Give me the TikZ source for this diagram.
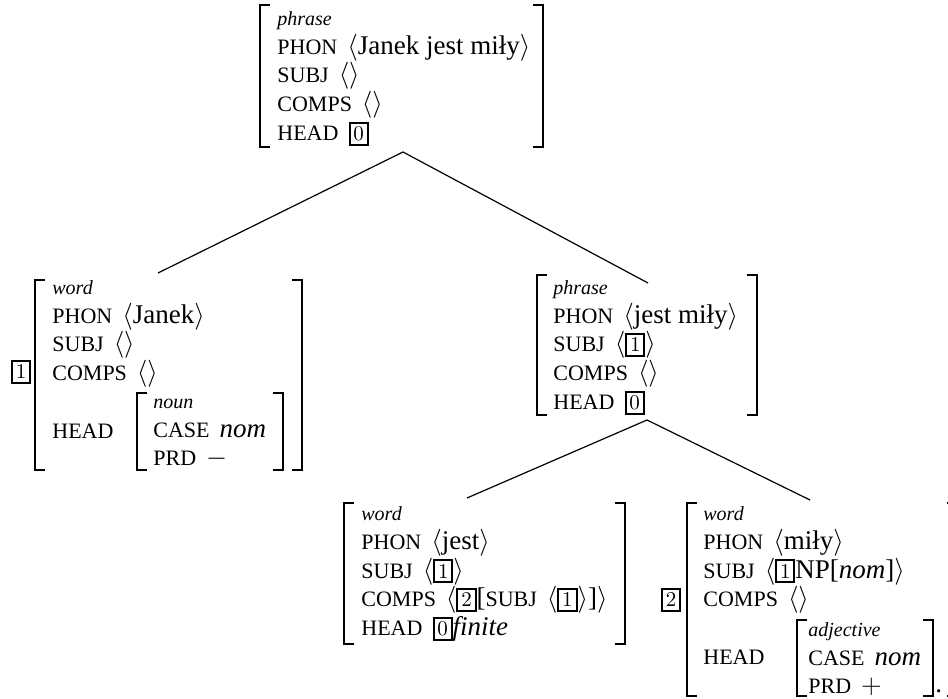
\RequirePackage{fix-cm}
\documentclass[tikz,border=0pt]{standalone}
\usepackage{fontspec}
\setmainfont{Liberation Serif}
\newfontfamily\tagfont{Latin Modern Roman}

\newcommand{\valfont}{\fontsize{13.5}{14.4}\selectfont}
\newcommand{\feat}[1]{{\fontsize{11}{14.4}\selectfont #1}\hspace{5pt}}
\newcommand{\typ}[1]{\rule{0pt}{8pt}{\fontsize{10}{14.4}\selectfont\itshape #1}}
\newcommand{\tagbox}[1]{{\setlength{\fboxsep}{1.4pt}\setlength{\fboxrule}{1pt}\fbox{\tagfont\fontsize{10.5}{10}\selectfont #1}}}
\newcommand{\lst}[1]{$\langle$#1$\rangle$}
% left x, top y, right x, bottom y
\newcommand{\avmbr}[4]{%
  \draw[br] (#1+10,#2) -| (#1,#4) -- (#1+10,#4);
  \draw[br] (#3-10,#2) -| (#3,#4) -- (#3-10,#4);}

\begin{document}
\begin{tikzpicture}[x=0.5pt,y=-0.5pt,
  avm/.style={anchor=north west,inner sep=0,align=left,font=\valfont},
  tag/.style={anchor=base,inner sep=0,font=\valfont},
  br/.style={line width=0.6pt},
  edge/.style={line width=0.6pt}]
	\useasboundingbox (0,0) rectangle (948,699);
	\clip (0,0) rectangle (948,699);
	% top
	\node[avm] (1) at (277,9) {\typ{phrase}\\
		\feat{PHON}\lst{Janek jest miły}\\
		\feat{SUBJ}\lst{}\\
		\feat{COMPS}\lst{}\\
		\feat{HEAD}\tagbox{0}};
	\avmbr{260}{5}{543}{147}
	% Janek
	\node[tag] (t1) at (21,379) {\tagbox{1}};
	\node[avm] (2) at (52,278) {\typ{word}\\
		\feat{PHON}\lst{Janek}\\
		\feat{SUBJ}\lst{}\\
		\feat{COMPS}\lst{}\\
		\mbox{}\\
		\feat{HEAD}\\
		\mbox{}};
	\avmbr{35}{280}{302}{470}
	\node[avm] (6) at (153,392) {\typ{noun}\\
		\feat{CASE}\textit{nom}\\
		\feat{PRD}$-$};
	\avmbr{137}{393}{283}{470}
	% jest mily
	\node[avm] (3) at (553,278) {\typ{phrase}\\
		\feat{PHON}\lst{jest miły}\\
		\feat{SUBJ}\lst{\tagbox{1}}\\
		\feat{COMPS}\lst{}\\
		\feat{HEAD}\tagbox{0}};
	\avmbr{537}{275}{757}{415}
	% jest
	\node[avm] (4) at (361,504) {\typ{word}\\
		\feat{PHON}\lst{jest}\\
		\feat{SUBJ}\lst{\tagbox{1}}\\
		\feat{COMPS}\lst{\tagbox{2}[\feat{SUBJ}\lst{\tagbox{1}}]}\\
		\feat{HEAD}\tagbox{0}\textit{finite}};
	\avmbr{344}{503}{625}{644}
	% mily
	\node[tag] (t2) at (671,607) {\tagbox{2}};
	\node[avm] (5) at (703,504) {\typ{word}\\
		\feat{PHON}\lst{miły}\\
		\feat{SUBJ}\lst{\tagbox{1}NP[\textit{nom}]}\\
		\feat{COMPS}\lst{}\\
		\mbox{}\\
		\feat{HEAD}\\
		\mbox{}};
	\avmbr{687}{503}{957}{696}
	\node[avm] (7) at (808,620) {\typ{adjective}\\
		\feat{CASE}\textit{nom}\\
		\feat{PRD}$+$};
	\avmbr{797}{620}{933}{696}
	\node[anchor=base west,inner sep=0,font=\valfont] (p) at (935,693) {.};
	% branches
	\coordinate (f1) at (403,152);
	\coordinate (h2) at (158,273);
	\coordinate (h3) at (648,283);
	\coordinate (f3) at (647,420);
	\coordinate (h4) at (467,498);
	\coordinate (h5) at (810,500);
	\draw[edge] (h2) -- (f1) -- (h3);
	\draw[edge] (h4) -- (f3) -- (h5);
\end{tikzpicture}
\end{document}
